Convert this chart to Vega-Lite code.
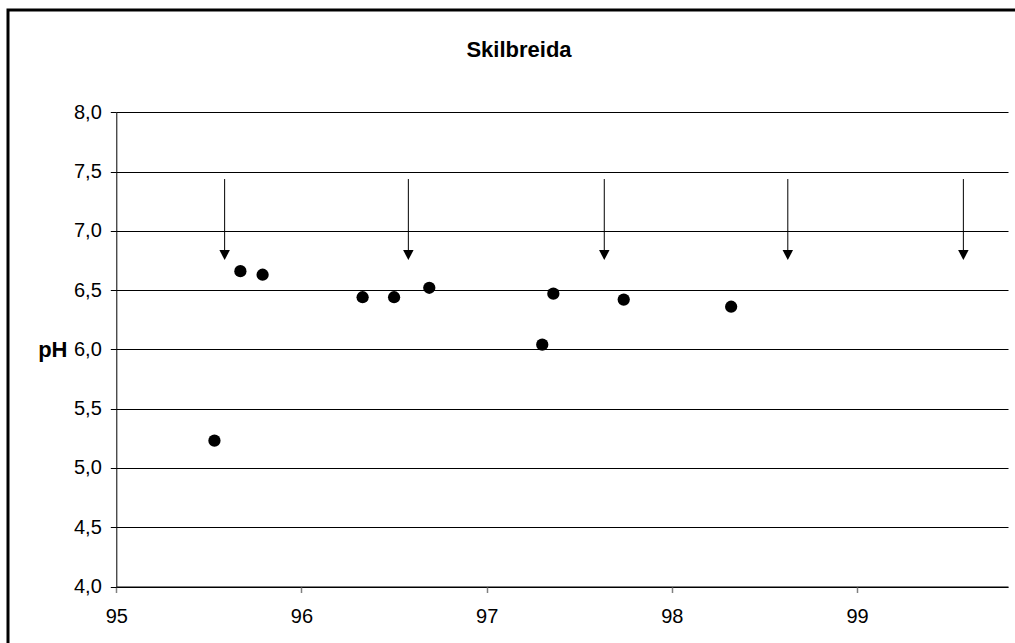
{
  "$schema": "https://vega.github.io/schema/vega-lite/v6.json",
  "width": 1007,
  "height": 633,
  "autosize": {"type": "none"},
  "padding": {"left": 8, "top": 10, "right": 0, "bottom": 0},
  "background": "white",
  "view": {"stroke": "black", "strokeWidth": 3, "strokeDash": [1007, 1640, 633, 1], "fill": "white"},
  "config": {
    "font": "Liberation Sans",
    "locale": {"number": {"decimal": ",", "thousands": ".", "grouping": [3], "currency": ["", ""]}}
  },
  "title": {
    "text": "Skilbreida",
    "font": "Liberation Sans",
    "fontSize": 22,
    "fontWeight": "bold",
    "color": "black",
    "anchor": "middle",
    "frame": "group",
    "baseline": "middle",
    "offset": -62,
    "dx": 7.5
  },
  "datasets": {
    "points": [
      {"x": 95.53, "pH": 5.23},
      {"x": 95.67, "pH": 6.66},
      {"x": 95.79, "pH": 6.63},
      {"x": 96.33, "pH": 6.44},
      {"x": 96.50, "pH": 6.44},
      {"x": 96.69, "pH": 6.52},
      {"x": 97.30, "pH": 6.04},
      {"x": 97.36, "pH": 6.47},
      {"x": 97.74, "pH": 6.42},
      {"x": 98.32, "pH": 6.36}
    ],
    "arrows": [
      {"x": 95.585, "top": 7.437, "bottom": 6.838},
      {"x": 96.577, "top": 7.437, "bottom": 6.838},
      {"x": 97.635, "top": 7.437, "bottom": 6.838},
      {"x": 98.626, "top": 7.437, "bottom": 6.838},
      {"x": 99.574, "top": 7.437, "bottom": 6.838}
    ]
  },
  "layer": [
    {
      "data": {"name": "points"},
      "mark": {"type": "circle", "size": 150, "color": "black", "opacity": 1},
      "encoding": {
        "x": {
          "field": "x",
          "type": "quantitative",
          "scale": {"domain": [95, 99.815], "range": [108.3, 1000], "nice": false, "zero": false},
          "axis": {
            "title": null,
            "values": [95, 96, 97, 98, 99],
            "format": "d",
            "grid": false,
            "domainColor": "black",
            "domainWidth": 1,
            "tickColor": "#808080",
            "tickSize": 6,
            "tickWidth": 1.5,
            "labelFont": "Liberation Sans",
            "labelFontSize": 20,
            "labelColor": "black",
            "labelPadding": 14,
            "labelFlush": false,
            "offset": -56.5
          }
        },
        "y": {
          "field": "pH",
          "type": "quantitative",
          "scale": {"domain": [4, 8], "range": [576.5, 102.3], "nice": false, "zero": false},
          "axis": {
            "title": "pH",
            "titleAngle": 0,
            "titleX": -49.3,
            "titleY": 339,
            "titleAlign": "right",
            "titleBaseline": "middle",
            "titleFont": "Liberation Sans",
            "titleFontSize": 22,
            "titleFontWeight": "bold",
            "titleColor": "black",
            "values": [4, 4.5, 5, 5.5, 6, 6.5, 7, 7.5, 8],
            "format": ".1f",
            "grid": true,
            "gridColor": "black",
            "gridWidth": 1,
            "gridOpacity": 1,
            "domainColor": "black",
            "domainWidth": 1,
            "tickColor": "black",
            "tickSize": 6,
            "labelFont": "Liberation Sans",
            "labelFontSize": 20,
            "labelColor": "black",
            "labelPadding": 9,
            "labelFlush": false,
            "offset": -108.3
          }
        }
      }
    },
    {
      "data": {"name": "arrows"},
      "mark": {"type": "rule", "color": "black", "strokeWidth": 1},
      "encoding": {
        "x": {"field": "x", "type": "quantitative"},
        "y": {"field": "top", "type": "quantitative"},
        "y2": {"field": "bottom"}
      }
    },
    {
      "data": {"name": "arrows"},
      "mark": {"type": "point", "shape": "M-1,0L1,0L0,1.9Z", "size": 110, "filled": true, "color": "black", "opacity": 1, "strokeWidth": 0},
      "encoding": {
        "x": {"field": "x", "type": "quantitative"},
        "y": {"field": "bottom", "type": "quantitative"}
      }
    }
  ]
}
